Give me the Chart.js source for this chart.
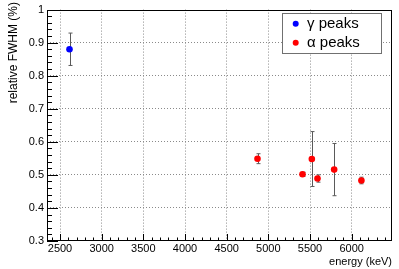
<!DOCTYPE html>
<html><head><meta charset="utf-8">
<script src="https://cdn.jsdelivr.net/npm/chart.js@4/dist/chart.umd.min.js"></script>
<style>html,body{margin:0;padding:0;background:#fff}#wrap{width:399px;height:269px}</style>
</head><body><div id="wrap"><canvas id="c" width="399" height="269"></canvas></div>
<script>
const gammaEnergy = [2614];
const gammaFWHM   = [0.880];
const gammaErr    = [0.049];
const alphaEnergy = [4870, 5410, 5522, 5590, 5790, 6117];
const alphaFWHM   = [0.549, 0.502, 0.548, 0.489, 0.516, 0.483];
const alphaErr    = [0.015, 0.006, 0.083, 0.011, 0.079, 0.010];
const xTicks = [2500, 3000, 3500, 4000, 4500, 5000, 5500, 6000];
const xTickLabels = ['2500', '3000', '3500', '4000', '4500', '5000', '5500', '6000'];
const yTicks = [0.3, 0.4, 0.5, 0.6, 0.7, 0.8, 0.9, 1.0];
const yTickLabels = ['0.3', '0.4', '0.5', '0.6', '0.7', '0.8', '0.9', '1'];
const seriesLabels = ['\u03b3 peaks', '\u03b1 peaks'];
const xTitle = 'energy (keV)';
const yTitle = 'relative FWHM (%)';
const xRange = [2344, 6484];
const yRange = [0.3, 1.0];

const toPts = (xs, ys, es) => xs.map((x, i) => ({x: x, y: ys[i], e: es[i]}));

const FONT = "'Liberation Sans', Arial, sans-serif";

const decor = {
  id: 'decor',
  beforeDatasetsDraw(chart) {
    const ctx = chart.ctx, xs = chart.scales.x, ys = chart.scales.y;
    ctx.save();
    ctx.strokeStyle = '#5a5a5a';
    ctx.lineWidth = 1;
    chart.data.datasets.forEach(ds => {
      ds.data.forEach(p => {
        const px = Math.round(xs.getPixelForValue(p.x)) + 0.5;
        const y1 = ys.getPixelForValue(p.y + p.e), y2 = ys.getPixelForValue(p.y - p.e);
        ctx.beginPath();
        ctx.moveTo(px, y1); ctx.lineTo(px, y2);
        ctx.moveTo(px - 2, y1); ctx.lineTo(px + 2, y1);
        ctx.moveTo(px - 2, y2); ctx.lineTo(px + 2, y2);
        ctx.stroke();
      });
    });
    ctx.restore();
  },
  afterDraw(chart) {
    const ctx = chart.ctx, a = chart.chartArea, xs = chart.scales.x, ys = chart.scales.y;
    ctx.save();
    ctx.strokeStyle = '#000';
    ctx.lineWidth = 1;
    ctx.strokeRect(Math.round(a.left) + 0.5, Math.round(a.top) + 0.5, Math.round(a.right - a.left) - 1, Math.round(a.bottom - a.top) - 1);
    ctx.beginPath();
    const yStep = (yTicks[1] - yTicks[0]) / 5;
    for (let i = 0; ; i++) {
      const v = yRange[0] + i * yStep;
      if (v > yRange[1] + 1e-9) break;
      const py = Math.round(ys.getPixelForValue(v)) + 0.5;
      const len = (i % 5 === 0) ? 11 : 5;
      ctx.moveTo(a.left, py); ctx.lineTo(a.left + len, py);
    }
    const xStep = (xTicks[1] - xTicks[0]) / 5;
    for (let v = xTicks[0] - xStep * Math.floor((xTicks[0] - xRange[0]) / xStep); v <= xRange[1]; v += xStep) {
      const px = Math.round(xs.getPixelForValue(v)) + 0.5;
      const major = xTicks.includes(Math.round(v));
      const len = major ? 7 : 3.5;
      ctx.moveTo(px, a.bottom); ctx.lineTo(px, a.bottom - len);
    }
    ctx.stroke();
    // y axis title
    ctx.save();
    ctx.fillStyle = '#000';
    ctx.font = '12px ' + FONT;
    ctx.translate(14, 2);
    ctx.rotate(-Math.PI / 2);
    ctx.textAlign = 'right';
    ctx.textBaseline = 'middle';
    ctx.fillText(yTitle, 0, 0);
    ctx.restore();
    // legend
    const lx = 282.5, ly = 13.5, lw = 99, lh = 40;
    ctx.fillStyle = '#fff';
    ctx.fillRect(lx, ly, lw, lh);
    ctx.strokeStyle = '#707070';
    ctx.strokeRect(lx, ly, lw, lh);
    ctx.font = '15px ' + FONT;
    ctx.textBaseline = 'middle';
    ctx.textAlign = 'left';
    chart.data.datasets.forEach((ds, i) => {
      const cy = 23.7 + i * 19;
      ctx.fillStyle = ds.backgroundColor;
      ctx.beginPath();
      ctx.arc(295.7, cy, 3, 0, Math.PI * 2);
      ctx.fill();
      ctx.fillStyle = '#000';
      ctx.fillText(ds.label, 307, cy);
    });
    ctx.restore();
  }
};

new Chart(document.getElementById('c'), {
  type: 'scatter',
  data: {
    datasets: [
      {label: seriesLabels[0], data: toPts(gammaEnergy, gammaFWHM, gammaErr), backgroundColor: '#0000ff', borderWidth: 0, pointRadius: 3.3},
      {label: seriesLabels[1], data: toPts(alphaEnergy, alphaFWHM, alphaErr), backgroundColor: '#ff0000', borderWidth: 0, pointRadius: 3.3}
    ]
  },
  options: {
    responsive: false,
    animation: false,
    devicePixelRatio: 1,
    layout: {padding: {top: 7, right: 7, left: 0, bottom: 0}},
    plugins: {legend: {display: false}, tooltip: {enabled: false}},
    scales: {
      x: {
        type: 'linear', min: xRange[0], max: xRange[1],
        afterFit(s) { s.height = 28; },
        afterBuildTicks(s) { s.ticks = xTicks.map(v => ({value: v})); },
        ticks: {color: '#000', font: {family: FONT, size: 11}, padding: 1, maxRotation: 0, autoSkip: false,
          callback: (v, i) => xTickLabels[i]},
        grid: {drawTicks: false, color: '#8a8a8a', lineWidth: 1},
        border: {display: false, dash: [1, 2]},
        title: {display: true, text: xTitle, align: 'end', color: '#000', font: {family: FONT, size: 11}, padding: {top: 0, bottom: 0}}
      },
      y: {
        type: 'linear', min: yRange[0], max: yRange[1],
        afterFit(s) { s.width = 47; },
        afterBuildTicks(s) { s.ticks = yTicks.map(v => ({value: v})); },
        ticks: {color: '#000', font: {family: FONT, size: 11}, padding: 3, autoSkip: false,
          callback: (v, i) => yTickLabels[i]},
        grid: {drawTicks: false, lineWidth: 1,
          color: c => (c.tick && (Math.abs(c.tick.value - yRange[0]) < 1e-9 || Math.abs(c.tick.value - yRange[1]) < 1e-9)) ? 'rgba(0,0,0,0)' : '#8a8a8a'},
        border: {display: false, dash: [1, 2]},
        title: {display: false}
      }
    }
  },
  plugins: [decor]
});
</script></body></html>
